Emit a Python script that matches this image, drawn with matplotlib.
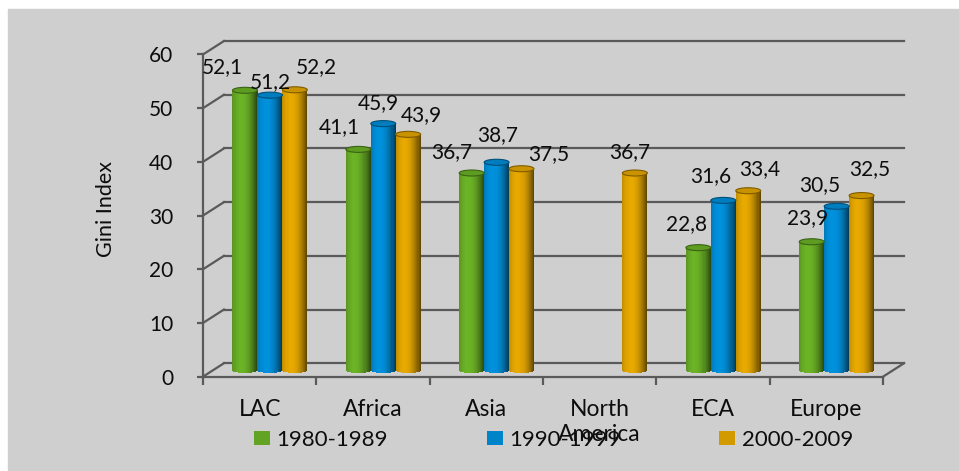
import numpy as np
import matplotlib
matplotlib.use("Agg")
import matplotlib.pyplot as plt
from matplotlib.patches import Rectangle, Ellipse, Patch

plt.rcParams['font.family'] = ['Lato', 'DejaVu Sans']

# data
categories = ['LAC', 'Africa', 'Asia', 'North\nAmerica', 'ECA', 'Europe']
series = ['1980-1989', '1990-1999', '2000-2009']
gini_1980s = [52.1, 41.1, 36.7, np.nan, 22.8, 23.9]
gini_1990s = [51.2, 45.9, 38.7, np.nan, 31.6, 30.5]
gini_2000s = [52.2, 43.9, 37.5, 36.7, 33.4, 32.5]
yticks = [0, 10, 20, 30, 40, 50, 60]

# label nudges (px): horizontal offset and gap above bar top
lab_dx = [[-23, 0, 22], [-19, -5, 13], [-20, 1, 27], [0, 0, -5], [-12, -13, 11], [-4, -17, 8]]
lab_gap = [[14, 4, 14], [13, 12, 10], [12, 18, 6], [0, 0, 12], [15, 15, 13], [15, 12, 17]]

colors = ['#62a323', '#0084c9', '#d39a00']
values = [gini_1980s, gini_1990s, gini_2000s]
txt_c = '#0d0d0d'

W, H = 959, 471
fig = plt.figure(figsize=(W / 100, H / 100), dpi=100)
fig.patch.set_facecolor('white')
fig.patches.append(Rectangle((8 / W, 1 - 470 / H), (W - 8) / W, (470 - 9) / H,
                             transform=fig.transFigure, color='#cfcfcf', zorder=-1))

# axes placed so that front axis spans x 203..883 px, y 0 -> 376.7px, 60 -> 54.5px
ax = fig.add_axes([146.3 / W, 1 - 387.4 / H, (939.7 - 146.3) / W, (387.4 - 33.0) / H])
ax.set_zorder(1)
ax.set_xlim(-0.5, 6.5)
ax.set_ylim(-2, 64)
ax.patch.set_alpha(0)

grid_c = '#5a5a5a'
ddx, ddy = 0.185, 2.5   # depth offset of back wall (data units)
n = len(categories)

# back wall gridlines + side wall connectors
for v in yticks:
    ax.plot([ddx, n + ddx], [v + ddy, v + ddy], color=grid_c, lw=1.6, zorder=1)
    ax.plot([0, ddx], [v, v + ddy], color=grid_c, lw=1.6, zorder=1)
ax.plot([n, n + ddx], [0, ddy], color=grid_c, lw=1.6, zorder=1)

# spines / ticks
for s in ['top', 'right']:
    ax.spines[s].set_visible(False)
ax.spines['left'].set_position(('data', 0))
ax.spines['bottom'].set_position(('data', 0))
ax.spines['left'].set_bounds(0, 60)
ax.spines['bottom'].set_bounds(0, n)
for s in ['left', 'bottom']:
    ax.spines[s].set_color(grid_c)
    ax.spines[s].set_linewidth(1.6)

ax.set_yticks(yticks)
ax.set_yticklabels([str(v) for v in yticks])
ax.tick_params(axis='y', direction='out', length=4.5, width=1.6, color=grid_c,
               pad=17, labelsize=15, labelcolor=txt_c)
ax.set_xticks(np.arange(n + 1))
ax.set_xticklabels([])
ax.tick_params(axis='x', which='major', direction='out', length=6, width=1.6, color=grid_c)
ax.set_xticks(np.arange(n) + 0.5, minor=True)
ax.set_xticklabels(categories, minor=True, fontsize=16.5, linespacing=1.25)
ax.tick_params(axis='x', which='minor', length=0, pad=16, labelcolor=txt_c)

# cylinders
bw = 0.22
f = 0.49
x_base = f * ddx
y_base = f * ddy
ehh = 0.56   # half height of ellipse (data units)
nsl = 24
u = (np.arange(nsl) + 0.5) / nsl * 2 - 1
shade = 1 - ((u + 0.3) / 1.3) ** 2
shade = 0.42 + 0.68 * np.clip(shade, 0, 1)


def shaded(c, k):
    rgb = np.array(matplotlib.colors.to_rgb(c))
    return np.clip(rgb * k, 0, 1)


for si, (vals, c) in enumerate(zip(values, colors)):
    for ci, v in enumerate(vals):
        if np.isnan(v):
            continue
        xc = ci + 0.5 + x_base + (si - 1) * bw
        xs = xc + u * bw / 2
        bottoms = y_base - ehh * np.sqrt(1 - u ** 2)
        tops = np.full(nsl, y_base + v)
        ax.bar(xs, tops - bottoms, bottom=bottoms, width=bw / nsl * 1.15,
               color=[shaded(c, k) for k in shade], linewidth=0, zorder=3)
        ax.add_patch(Ellipse((xc, y_base + v), bw, 2 * ehh, facecolor=shaded(c, 0.95),
                             edgecolor=shaded(c, 0.6), lw=0.8, zorder=4))
        ax.annotate(f"{v:.1f}".replace('.', ','), xy=(xc, y_base + v + ehh),
                    xytext=(lab_dx[ci][si] * 0.72, lab_gap[ci][si] * 0.72),
                    textcoords='offset points', ha='center', va='baseline',
                    fontsize=15, color=txt_c, zorder=5)

fig.text(106 / W, 1 - 209 / H, 'Gini Index', rotation=90, ha='center', va='center',
         fontsize=15.5, color=txt_c)

handles = [Patch(facecolor=c, edgecolor='none') for c in colors]
leg = fig.legend(handles, series, loc='center', bbox_to_anchor=(553.5 / W, 1 - 440 / H),
                 ncol=3, frameon=False, fontsize=16, handlelength=0.72, handleheight=0.6,
                 handletextpad=0.3, columnspacing=4.45, borderaxespad=0)
for t in leg.get_texts():
    t.set_color(txt_c)

fig.savefig('out.png', dpi=100)
